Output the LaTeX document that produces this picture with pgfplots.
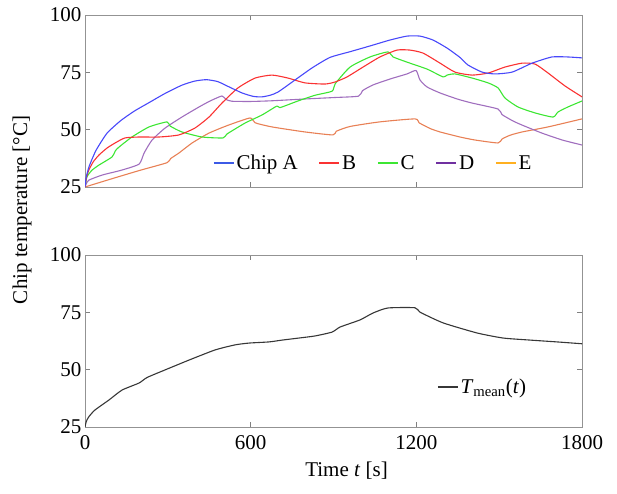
\documentclass[border=0pt]{standalone}
\usepackage{pgfplots}
\pgfplotsset{compat=1.18}
\usepackage{fontspec}
\setmainfont{Liberation Serif}

% line colours
\definecolor{cA}{RGB}{72,72,250}
\definecolor{cB}{RGB}{250,50,50}
\definecolor{cC}{RGB}{60,230,50}
\definecolor{cD}{RGB}{160,110,190}
\definecolor{cE}{RGB}{232,128,85}
% legend colours
\definecolor{lA}{RGB}{60,90,230}
\definecolor{lD}{RGB}{112,48,160}
\definecolor{lE}{RGB}{255,176,32}
\definecolor{cM}{RGB}{55,55,55}

\pgfplotsset{
  chip/.style={
    scale only axis, width=497pt, height=172pt,
    xmin=0, xmax=1800, ymin=25, ymax=100,
    xtick={0,600,1200,1800}, ytick={25,50,75,100},
    tick align=inside, major tick length=5pt,
    axis line style={draw=gray!85},
    tick style={gray, line width=0.5pt},
    every tick label/.append style={font=\fontsize{21}{24}\selectfont},
    xticklabel style={yshift=-5pt},
    /pgf/number format/assume math mode=true,
    /pgf/number format/1000 sep={},
    anchor=south west,
    legend image code/.code={\draw[##1, line width=1.4pt] (0pt,0pt) -- (20pt,0pt);},
  },
  curve/.style={line width=1.1pt, smooth, tension=0.35, line join=round},
}

\begin{document}
\begin{tikzpicture}
\useasboundingbox (0,0) rectangle (617pt,493pt);

\begin{axis}[chip, at={(85pt,306pt)}, xticklabels={},
  legend style={at={(0.58,0.14)}, anchor=center, draw=none, fill=none,
    font=\fontsize{21}{24}\selectfont, legend columns=5,
    /tikz/every even column/.append style={column sep=19pt}}]
\addlegendimage{lA}\addlegendentry{Chip A}
\addlegendimage{cB}\addlegendentry{B}
\addlegendimage{cC}\addlegendentry{C}
\addlegendimage{lD}\addlegendentry{D}
\addlegendimage{lE}\addlegendentry{E}

% Chip E
\addplot[curve, cE, forget plot] coordinates {
 (0,25) (100,28.7) (200,32.3) (297,35.6) (310,37.4) (340,39.8) (388,44.2)
 (449,48.5) (520,52) (598,55.1) (616,53) (677,51.2) (797,49) (898,47.7)
 (910,49.3) (960,51.4) (1068,53.4) (1195,54.7) (1210,53) (1250,50.5)
 (1286,49) (1358,46.8) (1412,45.5) (1496,44.2) (1510,45.9) (1540,47.6)
 (1583,49) (1677,51.2) (1800,54.7)};
% Chip D
\addplot[curve, cD, forget plot] coordinates {
 (0,25) (5,26.5) (14,28) (62,30.2) (134,32.4) (196,35) (214,39.8) (243,45.5)
 (290,50.7) (351,55.5) (413,59.9) (453,62.5) (496,64.7) (510,63.2) (532,62.4)
 (600,62.3) (677,62.6) (800,63.4) (900,64) (990,64.6) (1005,67) (1043,69.5)
 (1105,72.1) (1166,74.3) (1199,75.8) (1213,71.7) (1239,68.6) (1286,66)
 (1350,63.3) (1402,61.6) (1496,59) (1510,56.6) (1550,53.8) (1583,52)
 (1655,48.5) (1728,45.5) (1800,43.3)};
% Chip C
\addplot[curve, cC, forget plot] coordinates {
 (0,25) (7,29.4) (25,32.3) (51,34.6) (98,38.1) (110,40.8) (123,42.4) (170,46.8)
 (232,51.2) (297,53.4) (308,51.6) (351,49) (424,46.8) (500,46.4) (514,48.1)
 (580,52.9) (641,56.4) (695,60.3) (706,59.6) (771,62.5) (833,65) (895,66.8)
 (906,70) (960,77.3) (1032,81.7) (1097,83.9) (1116,81.7) (1177,79)
 (1239,76.4) (1297,73) (1311,73.8) (1340,74.3) (1402,72.5) (1460,70.4)
 (1496,68.2) (1521,63.8) (1568,59.9) (1630,57.3) (1695,55.5) (1713,57.7)
 (1749,59.9) (1800,62.5)};
% Chip B
\addplot[curve, cB, forget plot] coordinates {
 (0,25) (5,29) (14,32.4) (30,36) (51,39) (80,42) (109,44.2) (145,46.4)
 (196,46.8) (268,46.8) (340,47.7) (398,50.7) (449,55.5) (496,61.6) (554,68.2)
 (616,72.5) (677,73.8) (735,72.5) (797,70.4) (869,69.9) (906,70.8) (949,73)
 (1007,77.3) (1068,81.7) (1130,84.7) (1177,84.7) (1224,83.4) (1286,79)
 (1340,75.1) (1402,73.8) (1460,74.7) (1521,77.3) (1583,79) (1630,78.6)
 (1677,74.7) (1739,69) (1800,64.3)};
% Chip A
\addplot[curve, cA, forget plot] coordinates {
 (0,25) (4,29) (15,34) (40,41) (80,48.5) (130,54) (180,58.2) (232,61.8)
 (290,65.8) (351,69.4) (398,71.2) (440,71.8) (480,71) (507,69.5) (569,66)
 (610,64.5) (641,64.3) (670,65) (699,66.4) (761,71.7) (822,76.9) (887,81.5)
 (960,84) (1032,86.5) (1105,89.1) (1166,90.8) (1213,90.8) (1260,89.1)
 (1311,85.6) (1358,81.5) (1387,78.2) (1438,75.1) (1485,74.3) (1547,75.1)
 (1619,79) (1691,81.7) (1749,81.7) (1800,81.3)};
\end{axis}

\begin{axis}[chip, at={(85pt,66pt)},
  xlabel={Time \textit{t} [s]},
  xlabel style={font=\fontsize{21}{24}\selectfont, xshift=13pt, yshift=-5pt},
  legend style={at={(0.80,0.233)}, anchor=center, draw=none, fill=none,
    font=\fontsize{21}{24}\selectfont}]
\addplot[curve, cM] coordinates {
 (0,25) (5,27.5) (14,29.5) (36,32.4) (87,36.8) (134,41.1) (196,44.2)
 (225,46.6) (290,49.9) (377,54.2) (471,58.6) (543,60.8) (594,61.6) (666,62.1)
 (714,62.9) (775,63.8) (833,64.7) (895,66.4) (924,68.6) (996,71.7) (1043,74.7)
 (1097,76.9) (1195,77) (1213,75.1) (1297,70.4) (1420,66) (1514,63.8)
 (1612,62.9) (1710,62.1) (1800,61.3)};
\addlegendentry{\textit{T}\textsubscript{mean}(\textit{t})}
\end{axis}

\node[rotate=90, font=\fontsize{21}{24}\selectfont] at (22pt,283pt) {Chip temperature [°C]};
\end{tikzpicture}
\end{document}
